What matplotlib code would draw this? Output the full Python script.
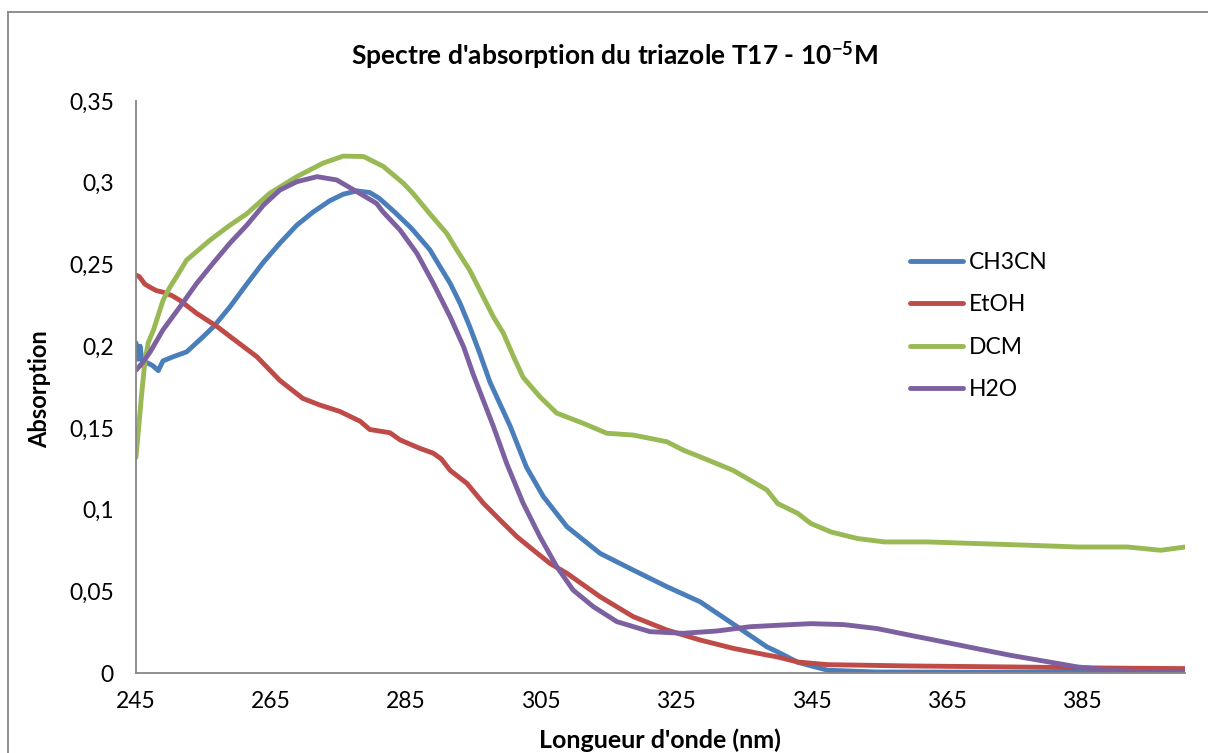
import matplotlib
matplotlib.use("Agg")
import matplotlib.pyplot as plt
from matplotlib.lines import Line2D

plt.rcParams['font.family'] = ['Lato', 'DejaVu Sans']
plt.rcParams['mathtext.fontset'] = 'custom'
plt.rcParams['mathtext.rm'] = 'Lato'
plt.rcParams['mathtext.bf'] = 'Lato:bold'
plt.rcParams['mathtext.it'] = 'Lato:italic'

title = "Spectre d'absorption du triazole T17 - 10$^{\\mathbf{-5}}$M"
xlabel = "Longueur d'onde (nm)"
ylabel = "Absorption"
series_names = ["CH3CN", "EtOH", "DCM", "H2O"]
colors = ["#4A7EBB", "#BE4B48", "#98B954", "#7D60A0"]
xticks = [245, 265, 285, 305, 325, 345, 365, 385]
yticks = [0, 0.05, 0.1, 0.15, 0.2, 0.25, 0.3, 0.35]
ytick_labels = ["0", "0,05", "0,1", "0,15", "0,2", "0,25", "0,3", "0,35"]

ch3cn_x = [245.0, 245.3, 245.6, 246.0, 246.6, 247.5, 248.3, 249.0, 250.5, 252.5, 255.0, 256.5,
           258.9, 261.4, 263.8, 266.3, 268.8, 271.2, 273.7, 275.7, 277.7, 279.6, 281.0, 283.3,
           285.8, 288.5, 290.0, 291.5, 293.0, 294.4, 295.9, 297.4, 300.4, 302.8, 305.3,
           308.8, 313.7, 318.6, 323.6, 328.5, 333.4, 338.4, 340.0, 343.0, 347.4, 354.7, 370.0,
           385.0, 400.3]
ch3cn_y = [0.202, 0.192, 0.200, 0.188, 0.190, 0.188, 0.185, 0.191, 0.1935, 0.1965, 0.206, 0.212,
           0.224, 0.238, 0.251, 0.263, 0.274, 0.282, 0.289, 0.293, 0.295, 0.294, 0.2905, 0.282,
           0.272, 0.259, 0.2487, 0.2385, 0.226, 0.212, 0.1955, 0.178, 0.151, 0.126, 0.108,
           0.0895, 0.0732, 0.063, 0.0528, 0.0436, 0.030, 0.016, 0.0129, 0.0065, 0.0017, 0.0006, 0.0005,
           0.0005, 0.0005]

etoh_x = [245.0, 245.5, 246.3, 247.1, 248.0, 249.0, 250.3, 251.5, 254.0, 257.0, 258.9, 262.9,
          266.3, 269.7, 272.2, 275.2, 278.2, 279.6, 282.6, 284.1, 287.0, 289.0, 290.2, 291.5,
          294.0, 296.4, 298.9, 301.4, 303.8, 306.3, 308.8, 313.7, 318.6, 323.6, 328.5, 333.4,
          338.4, 340.0, 343.0, 347.4, 359.8, 374.6, 389.4, 400.3]
etoh_y = [0.2435, 0.2425, 0.238, 0.236, 0.234, 0.233, 0.231, 0.228, 0.220, 0.212, 0.206, 0.1935,
          0.179, 0.168, 0.164, 0.160, 0.154, 0.149, 0.147, 0.1426, 0.1375, 0.1345, 0.131, 0.124,
          0.116, 0.104, 0.0936, 0.0834, 0.0753, 0.067, 0.061, 0.0467, 0.0345, 0.0263, 0.0202, 0.0151,
          0.011, 0.0098, 0.0067, 0.0051, 0.0043, 0.0037, 0.003, 0.0027]

dcm_x = [245.0, 245.8, 246.3, 246.8, 247.6, 249.0, 250.0, 251.0, 252.5, 256.0, 258.9, 261.4,
         264.8, 268.8, 272.7, 275.7, 278.7, 281.6, 284.6, 286.0, 288.5, 291.0, 292.5, 294.4,
         295.9, 297.9, 299.4, 300.9, 302.3, 304.8, 307.3, 311.2, 314.7, 318.6, 323.6, 326.0,
         328.5, 333.4, 335.9, 338.4, 340.0, 343.0, 344.9, 347.9, 351.8, 355.8, 362.2, 369.6,
         377.0, 384.4, 391.8, 396.7, 400.3]
dcm_y = [0.132, 0.169, 0.190, 0.202, 0.210, 0.228, 0.236, 0.2425, 0.2527, 0.265, 0.274, 0.281,
         0.2935, 0.3037, 0.312, 0.3163, 0.316, 0.310, 0.2996, 0.2935, 0.281, 0.269, 0.2588, 0.2465,
         0.2343, 0.218, 0.2078, 0.1935, 0.181, 0.169, 0.159, 0.1528, 0.1467, 0.1456, 0.1415, 0.1364,
         0.1323, 0.124, 0.118, 0.112, 0.1037, 0.0976, 0.0915, 0.0863, 0.0823, 0.0802, 0.0802, 0.0792,
         0.0782, 0.0771, 0.0771, 0.0751, 0.0771]

h2o_x = [245.0, 246.0, 247.1, 249.0, 251.5, 254.0, 256.4, 258.9, 261.4, 263.9, 266.3, 268.8,
         271.8, 274.7, 277.7, 280.6, 281.6, 284.1, 286.6, 289.0, 291.5, 293.5, 294.9,
         297.9, 299.9, 302.3, 304.8, 307.3, 309.7, 312.7, 316.2, 321.1, 326.0, 331.0, 335.9,
         340.0, 344.9, 349.8, 354.7, 359.6, 364.6, 369.5, 374.5, 379.4, 384.4, 389.3, 394.0, 400.3]
h2o_y = [0.1853, 0.190, 0.1965, 0.210, 0.224, 0.2385, 0.2507, 0.263, 0.274, 0.2864, 0.2955, 0.3006,
         0.3037, 0.3017, 0.2945, 0.2874, 0.282, 0.271, 0.2567, 0.2385, 0.218, 0.1996, 0.183,
         0.151, 0.128, 0.104, 0.0834, 0.065, 0.0508, 0.0406, 0.0314, 0.0253, 0.0243, 0.0257, 0.0283,
         0.0292, 0.0302, 0.0296, 0.0272, 0.0231, 0.019, 0.0149, 0.0108, 0.0073, 0.0037, 0.0017, 0.0008,
         0.0003]

W, H = 1208, 753
fig = plt.figure(figsize=(W / 100, H / 100), dpi=100)
ax = fig.add_axes([136 / W, 1 - 673 / H, (1185 - 136) / W, (673 - 101) / H])

data = [(ch3cn_x, ch3cn_y), (etoh_x, etoh_y), (dcm_x, dcm_y), (h2o_x, h2o_y)]
for (xs, ys), name, c in zip(data, series_names, colors):
    ax.plot(xs, ys, color=c, lw=3.5, label=name, solid_capstyle='round', solid_joinstyle='round')

ax.set_xlim(245, 400.3)
ax.set_ylim(0, 0.35)
ax.set_xticks(xticks)
ax.set_xticklabels([str(t) for t in xticks])
ax.set_yticks(yticks)
ax.set_yticklabels(ytick_labels)
ax.tick_params(axis='both', length=0, labelsize=16.5, colors='black')
ax.tick_params(axis='x', pad=13)
ax.tick_params(axis='y', pad=16)
for s in ['top', 'right']:
    ax.spines[s].set_visible(False)
for s in ['left', 'bottom']:
    ax.spines[s].set_color('#868686')
    ax.spines[s].set_linewidth(1.3)

fig.text(660 / W, 1 - 740 / H, xlabel, ha='center', va='center', fontsize=18, fontweight='bold')
fig.text(40 / W, 1 - 389 / H, ylabel, ha='center', va='center', rotation=90, fontsize=17, fontweight='bold')
fig.text(614 / W, 1 - 55 / H, title, ha='center', va='center', fontsize=19, fontweight='bold')

leg = ax.legend(loc='upper left', bbox_to_anchor=(910 / W, 1 - 252 / H), bbox_transform=fig.transFigure,
                frameon=False, fontsize=16.5, handlelength=2.3, handletextpad=0.25, labelspacing=0.93,
                borderaxespad=0, borderpad=0)

fig.add_artist(Line2D([8 / W, 8 / W], [0, 1 - 12 / H], transform=fig.transFigure, color='#868686', lw=1.3))
fig.add_artist(Line2D([8 / W, 1], [1 - 12 / H, 1 - 12 / H], transform=fig.transFigure, color='#868686', lw=1.3))

fig.savefig("out.png", dpi=100)
